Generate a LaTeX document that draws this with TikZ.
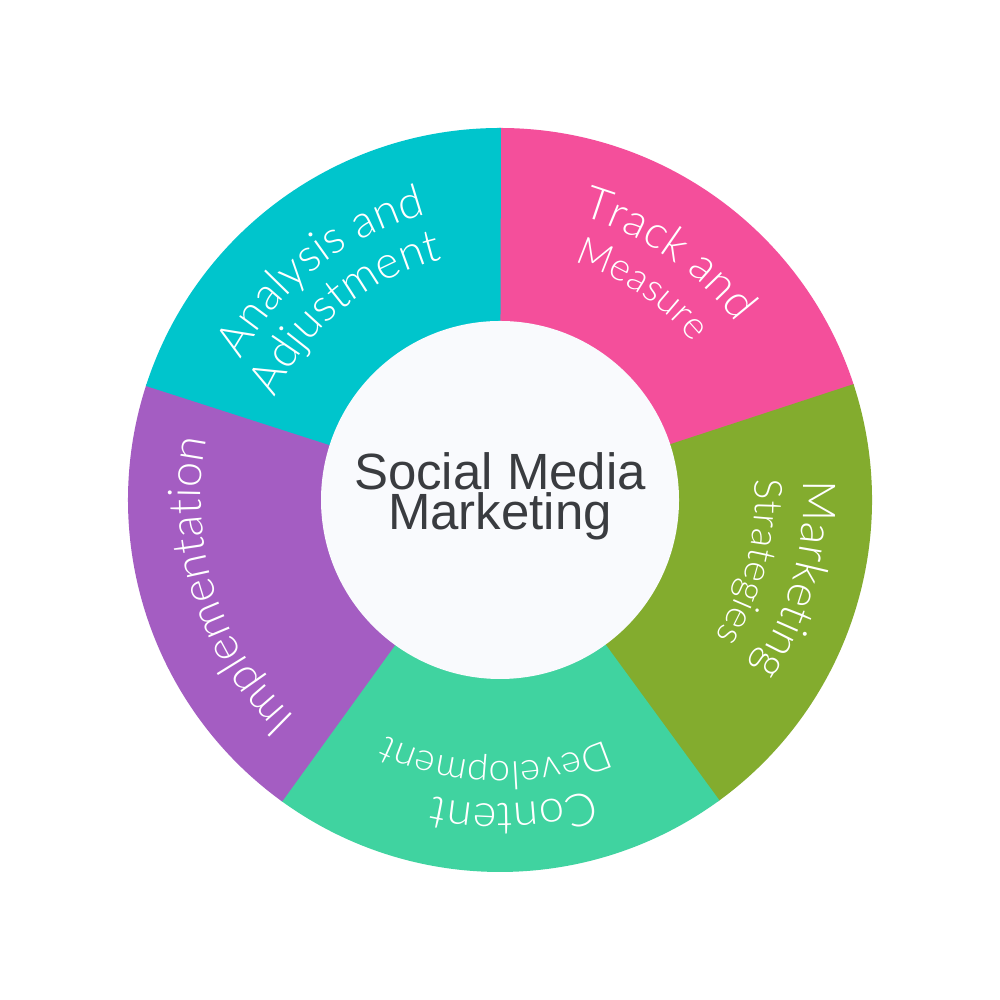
\documentclass[tikz,border=0pt]{standalone}
\usepackage{fontspec}
\setmainfont{Liberation Sans}
\newfontfamily\segfont{Lato Light}
\newfontfamily\hubfont{Liberation Sans}
\usetikzlibrary{decorations.text}
\definecolor{segpink}{HTML}{F44F9B}
\definecolor{segcyan}{HTML}{00C5CC}
\definecolor{seggreen}{HTML}{83AC2E}
\definecolor{segmint}{HTML}{40D3A0}
\definecolor{segpurple}{HTML}{A45DC2}
\definecolor{hubfill}{HTML}{F9FAFD}
\definecolor{hubtext}{HTML}{3A3C40}
\tikzset{
  ringlabel/.style={decorate, decoration={text along path, text align=center, text color=white, text={#1}}},
  hubdisc/.style={circle, fill=hubfill, minimum size=3.58cm, inner sep=0pt},
  hubline/.style={anchor=base, text=hubtext, inner sep=0pt, font=\hubfont\fontsize{14.5}{16}\selectfont},
}
\newcommand{\seglg}{\segfont\fontsize{12.9}{15}\selectfont}
\newcommand{\segsm}{\segfont\fontsize{11}{13}\selectfont}
\begin{document}
\begin{tikzpicture}
\useasboundingbox (0,0) rectangle (10,10);
\fill[white] (0,0) rectangle (10,10);
\coordinate (c) at (5,5);
\begin{scope}[shift={(5,5)}]
  % ring segments
  \fill[segpink]   (0,0) -- (90.15:3.72) arc[start angle=90.15, end angle=17.85, radius=3.72] -- cycle;
  \fill[seggreen]  (0,0) -- (18.15:3.72) arc[start angle=18.15, end angle=-54.15, radius=3.72] -- cycle;
  \fill[segmint]   (0,0) -- (-53.85:3.72) arc[start angle=-53.85, end angle=-126.15, radius=3.72] -- cycle;
  \fill[segpurple] (0,0) -- (-125.85:3.72) arc[start angle=-125.85, end angle=-198.15, radius=3.72] -- cycle;
  \fill[segcyan]   (0,0) -- (162.15:3.72) arc[start angle=162.15, end angle=89.85, radius=3.72] -- cycle;
  % curved labels (clockwise paths, text tops outward)
  \path[ringlabel={|\seglg|Track and}] (95.5:2.95) arc[start angle=95.5, end angle=15.5, radius=2.95];
  \path[ringlabel={|\segsm|Measure}] (96:2.49) arc[start angle=96, end angle=16, radius=2.49];
  \path[ringlabel={|\seglg|Marketing}] (25:3.03) arc[start angle=25, end angle=-55, radius=3.03];
  \path[ringlabel={|\segsm|Strategies}] (26:2.55) arc[start angle=26, end angle=-54, radius=2.55];
  \path[ringlabel={|\seglg|Content}] (-47.5:3.04) arc[start angle=-47.5, end angle=-127.5, radius=3.04];
  \path[ringlabel={|\segsm|Development}] (-51:2.62) arc[start angle=-51, end angle=-131, radius=2.62];
  \path[ringlabel={|\seglg|Implementation}] (237.5:2.99) arc[start angle=237.5, end angle=157.5, radius=2.99];
  \path[ringlabel={|\seglg|Analysis and}] (168:2.95) arc[start angle=168, end angle=88, radius=2.95];
  \path[ringlabel={|\seglg|Adjustment}] (169.5:2.47) arc[start angle=169.5, end angle=89.5, radius=2.47];
\end{scope}
% hub
\node[hubdisc] (hub) at (c) {};
\node[hubline] (title1) at (5,5.10) {Social Media};
\node[hubline] (title2) at (5,4.70) {Marketing};
\end{tikzpicture}
\end{document}
